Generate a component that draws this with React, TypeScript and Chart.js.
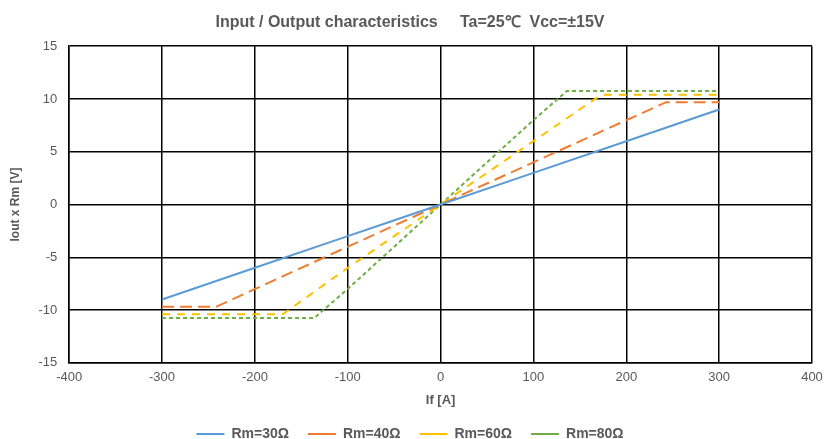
import React, { useEffect, useRef } from 'react';
import { Chart, registerables } from 'chart.js';

Chart.register(...registerables);

// Breakpoints of each series (If [A] -> Iout x Rm [V])
const seriesNames = ['Rm=30Ω', 'Rm=40Ω', 'Rm=60Ω', 'Rm=80Ω'];
const colors = ['#5b9bd5', '#ed7d31', '#ffc000', '#70ad47'];
const dashes = [[], [12, 6], [8, 7], [4, 3]];

const rm30X = [-300, -200, -100, -60, 0, 100, 200, 300];
const rm30Y = [-9, -6, -3, -1.8, 0, 3, 6, 9];
const rm40X = [-300, -242, -100, 0, 100, 243, 300];
const rm40Y = [-9.7, -9.7, -4, 0, 4, 9.7, 9.7];
const rm60X = [-300, -170, -100, 0, 100, 173, 300];
const rm60Y = [-10.4, -10.4, -6, 0, 6, 10.4, 10.4];
const rm80X = [-300, -136, -100, 0, 100, 136, 300];
const rm80Y = [-10.75, -10.75, -8, 0, 8, 10.75, 10.75];

const xTicks = [-400, -300, -200, -100, 0, 100, 200, 300, 400];
const yTicks = [-15, -10, -5, 0, 5, 10, 15];

const toPoints = (xs: number[], ys: number[]) => xs.map((x, i) => ({ x, y: ys[i] }));

const App: React.FC = () => {
  const canvasRef = useRef<HTMLCanvasElement>(null);
  const chartRef = useRef<any>(null);

  useEffect(() => {
    document.body.style.margin = '0';
    if (!canvasRef.current) return;
    const font = "'Liberation Sans', Arial, sans-serif";
    const textColor = '#595959';
    const all = [toPoints(rm30X, rm30Y), toPoints(rm40X, rm40Y), toPoints(rm60X, rm60Y), toPoints(rm80X, rm80Y)];

    chartRef.current = new Chart(canvasRef.current.getContext('2d')!, {
      type: 'scatter',
      data: {
        datasets: all.map((pts, i) => ({
          label: seriesNames[i],
          data: pts,
          showLine: true,
          borderColor: colors[i],
          backgroundColor: colors[i],
          borderWidth: 2,
          borderDash: dashes[i],
          pointRadius: 0,
          tension: 0,
        })),
      },
      options: {
        animation: false,
        responsive: true,
        maintainAspectRatio: false,
        // negative bottom padding pulls the legend closer to the canvas edge
        layout: { padding: { left: 8, right: 28, top: 7, bottom: -12 } },
        plugins: {
          title: {
            display: true,
            text: 'Input / Output characteristics     Ta=25\u2103  Vcc=\u00b115V',
            color: textColor,
            font: { size: 16, weight: 'bold', family: font },
            padding: { top: 6, bottom: 14 },
          },
          legend: {
            position: 'bottom',
            padding: { top: 6, bottom: 0, left: 0, right: 0 } as any,
            labels: {
              usePointStyle: true,
              pointStyle: 'line',
              pointStyleWidth: 28,
              boxHeight: 2,
              color: textColor,
              font: { size: 14, weight: 'bold', family: font },
              padding: 19,
            },
          },
          tooltip: { enabled: false },
        },
        scales: {
          x: {
            type: 'linear',
            min: -400,
            max: 400,
            afterBuildTicks: (axis: any) => { axis.ticks = xTicks.map(v => ({ value: v })); },
            ticks: { color: textColor, font: { size: 13, family: font }, padding: 7 },
            grid: { color: '#000000', lineWidth: 1.5, drawTicks: false },
            border: { color: '#000000', width: 1.5 },
            title: { display: true, text: 'If [A]', color: textColor, font: { size: 13, weight: 'bold', family: font }, padding: { top: 0, bottom: 0 } },
          },
          y: {
            min: -15,
            max: 15,
            afterBuildTicks: (axis: any) => { axis.ticks = yTicks.map(v => ({ value: v })); },
            ticks: { color: textColor, font: { size: 13, family: font }, padding: 12 },
            grid: { color: '#000000', lineWidth: 1.5, drawTicks: false },
            border: { color: '#000000', width: 1.5 },
            title: { display: true, text: 'Iout x Rm [V]', color: textColor, font: { size: 12, weight: 'bold', family: font }, padding: { top: 0, bottom: 4 } },
          },
        },
      },
    });

    return () => {
      if (chartRef.current) { chartRef.current.destroy(); chartRef.current = null; }
    };
  }, []);

  return (
    <div style={{ position: 'relative', width: '840px', height: '439px', background: '#ffffff' }}>
      <canvas ref={canvasRef}></canvas>
    </div>
  );
};

export default App;
